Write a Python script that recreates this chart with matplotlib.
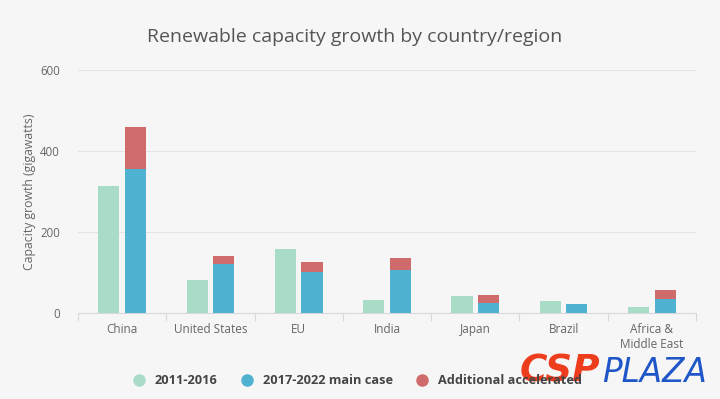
import matplotlib
matplotlib.use("Agg")
import matplotlib.pyplot as plt
import numpy as np
from matplotlib.lines import Line2D

plt.rcParams['font.family'] = ['Open Sans', 'DejaVu Sans']

categories = ["China", "United States", "EU", "India", "Japan", "Brazil", "Africa &\nMiddle East"]
cap_2011_2016 = [313, 81, 158, 33, 41, 30, 14]
cap_2017_2022_main = [355, 121, 101, 107, 25, 21, 35]
cap_additional = [104, 20, 25, 30, 19, 0, 22]
series_labels = ["2011-2016", "2017-2022 main case", "Additional accelerated"]
yticks = [0, 200, 400, 600]

c_light = "#a9dcc6"
c_blue = "#4fb2d0"
c_red = "#d06b6b"
bg = "#f7f6f7"

fig = plt.figure(figsize=(7.2, 3.99), dpi=100, facecolor=bg)
ax = fig.add_axes([78/720, 86/399, 618/720, 243/399])
ax.set_facecolor(bg)

x = np.arange(len(categories))
w = 0.24
off = 0.15
ax.bar(x - off, cap_2011_2016, width=w, color=c_light, zorder=3)
ax.bar(x + off, cap_2017_2022_main, width=w, color=c_blue, zorder=3)
ax.bar(x + off, cap_additional, width=w, bottom=cap_2017_2022_main, color=c_red, zorder=3)

ax.set_xlim(-0.5, len(categories) - 0.5)
ax.set_ylim(0, 600)
ax.set_yticks(yticks)
ax.set_yticklabels([str(v) for v in yticks], fontsize=8.3, color="#666666")
ax.tick_params(axis='y', length=0, pad=13)
ax.grid(axis='y', color="#e4e3e6", linewidth=0.8, zorder=0)

ax.set_xticks(np.arange(-0.5, len(categories), 1.0))
ax.set_xticklabels([])
ax.tick_params(axis='x', which='major', length=6, color="#d8d8dc", width=0.8)
ax.set_xticks(x, minor=True)
ax.set_xticklabels(categories, minor=True, fontsize=8.5, color="#666666", linespacing=1.25)
ax.tick_params(axis='x', which='minor', length=0, pad=7)

for s in ["top", "right", "left"]:
    ax.spines[s].set_visible(False)
ax.spines["bottom"].set_color("#d8d8dc")
ax.spines["bottom"].set_linewidth(0.8)

ax.set_ylabel("Capacity growth (gigawatts)", fontsize=8.8, color="#666666", labelpad=3)

fig.text(355/720, 1 - 37/399, "Renewable capacity growth by country/region",
         ha="center", va="center", fontsize=14, color="#555555")

handles = [Line2D([0], [0], marker='o', linestyle='', markersize=8, color=c)
           for c in (c_light, c_blue, c_red)]
leg = fig.legend(handles, series_labels, loc="center left", bbox_to_anchor=(126/720, 1 - 381/399),
                 ncol=3, frameon=False, handletextpad=0.25, columnspacing=1.3,
                 borderaxespad=0, borderpad=0,
                 prop={'weight': 'bold', 'size': 9.2})
for t in leg.get_texts():
    t.set_color("#444444")

# watermark (overlays the legend, as in the reference)
fig.text(520/720, 1 - 372/399, "CSP", fontsize=27, fontweight='bold', fontstyle='italic',
         color="#ee3d1c", ha="left", va="center", family=["DejaVu Sans"])
fig.text(602/720, 1 - 372/399, "PLAZA", fontsize=23.5, fontstyle='italic',
         color="#1f56c8", ha="left", va="center", family=["DejaVu Sans"])

fig.savefig("out.png", dpi=100, facecolor=bg)
